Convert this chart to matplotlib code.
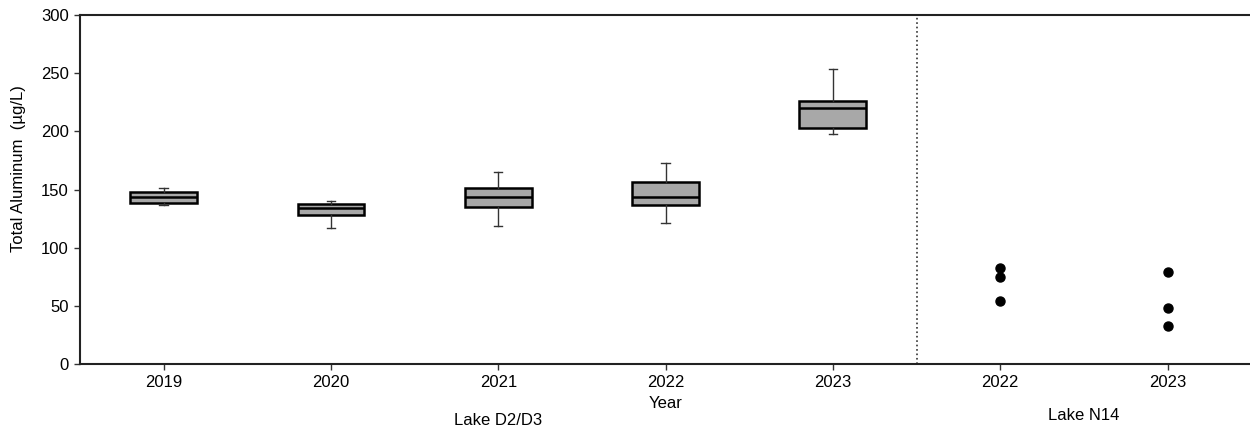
import matplotlib.pyplot as plt

plt.rcParams['font.family'] = ['Liberation Sans', 'DejaVu Sans']

# Lake D2/D3 boxplot summaries (ug/L)
d2_years = ['2019', '2020', '2021', '2022', '2023']
d2_whislo = [136.8, 116.6, 118.6, 120.9, 197.4]
d2_q1 = [138.4, 127.8, 134.7, 137.0, 202.9]
d2_med = [143.6, 134.4, 143.3, 143.3, 219.8]
d2_q3 = [148.1, 137.3, 151.0, 156.2, 225.8]
d2_whishi = [151.3, 139.9, 164.8, 172.5, 253.3]

# Lake N14 individual samples
n14_years = ['2022', '2023']
n14_2022 = [82.2, 74.8, 54.4]
n14_2023 = [79.4, 47.9, 32.7]

fs = 12

fig = plt.figure(figsize=(12.5, 4.3), dpi=100)
ax = fig.add_axes([0.064, 0.1535, 0.937, 0.8115])

stats = []
for i in range(len(d2_years)):
    stats.append(dict(whislo=d2_whislo[i], q1=d2_q1[i], med=d2_med[i],
                      q3=d2_q3[i], whishi=d2_whishi[i], fliers=[]))
pos = list(range(1, len(d2_years) + 1))
ax.bxp(stats, positions=pos, widths=0.4, capwidths=0.05, patch_artist=True,
       showfliers=False,
       boxprops=dict(facecolor='#a8a8a8', edgecolor='black', linewidth=1.8),
       medianprops=dict(color='black', linewidth=1.8),
       whiskerprops=dict(color='#333333', linewidth=1.0),
       capprops=dict(color='#333333', linewidth=1.0))

n14_pos = [len(d2_years) + 1 + i for i in range(len(n14_years))]
for p, vals in zip(n14_pos, [n14_2022, n14_2023]):
    ax.plot([p] * len(vals), vals, 'o', color='black', markersize=6.5)

ax.axvline(5.5, color='#333333', linestyle=':', linewidth=1.2)

ax.set_xlim(0.5, 7.5)
ax.set_ylim(0, 300)
ax.set_yticks(range(0, 301, 50))
ax.set_xticks(pos + n14_pos)
ax.set_xticklabels(d2_years + n14_years)
ax.tick_params(direction='out', labelsize=fs, length=4, width=1, color='#333333',
               pad=4)
ax.set_ylabel('Total Aluminum  (\u00b5g/L)', fontsize=fs)
ax.yaxis.set_label_coords(-0.046, 0.56)

for s in ['left', 'bottom', 'top']:
    ax.spines[s].set_linewidth(1.5)
    ax.spines[s].set_color('#222222')
ax.spines['right'].set_visible(False)

ax.text(4, -34, 'Year', ha='center', va='center', fontsize=fs,
        transform=ax.transData, clip_on=False)
ax.text(3, -48.5, 'Lake D2/D3', ha='center', va='center', fontsize=fs,
        transform=ax.transData, clip_on=False)
ax.text(6.5, -44, 'Lake N14', ha='center', va='center', fontsize=fs,
        transform=ax.transData, clip_on=False)

fig.savefig('out.png', dpi=100)
